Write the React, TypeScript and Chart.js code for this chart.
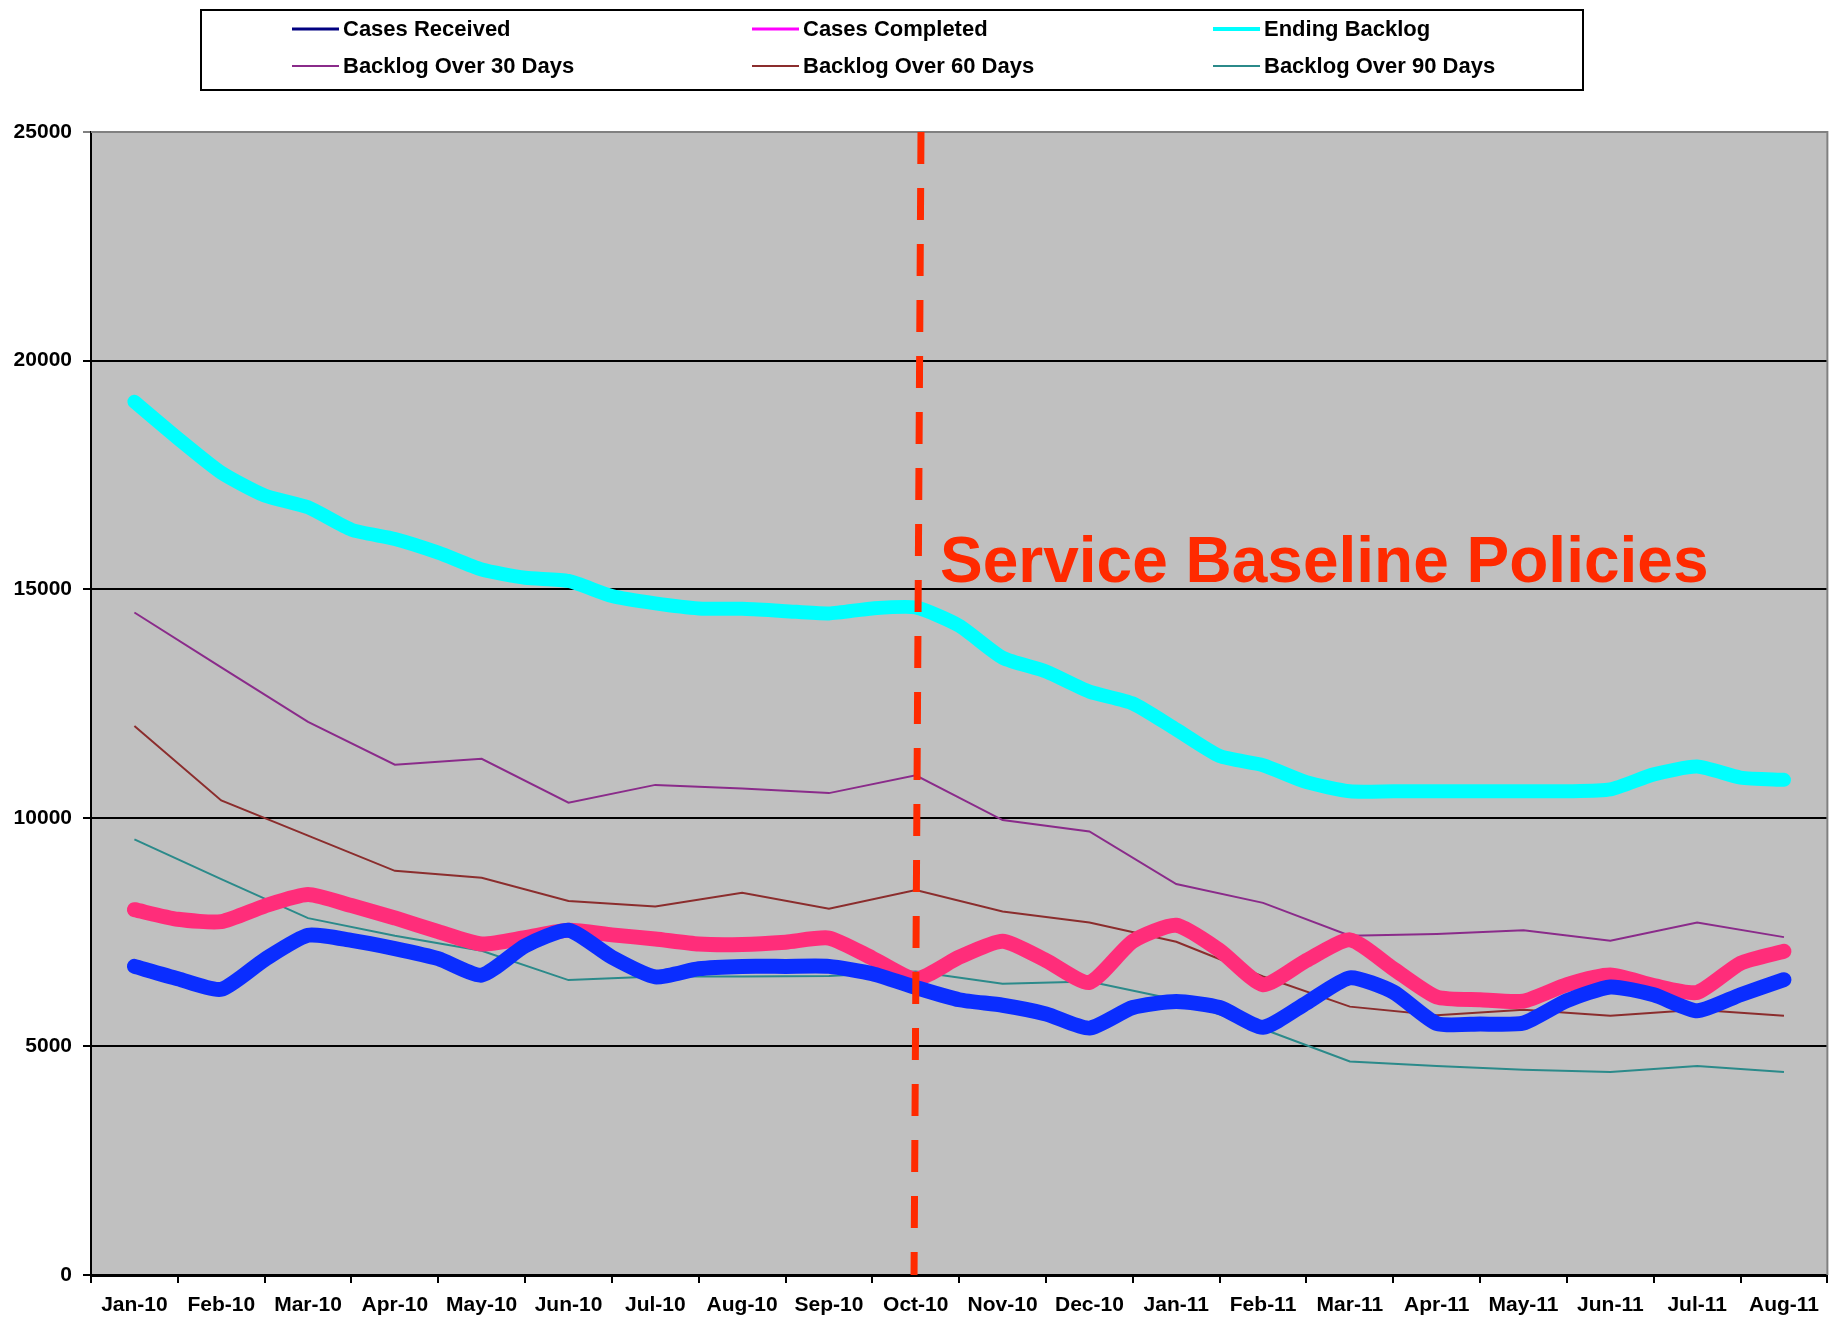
import React, { useEffect, useRef } from 'react';
import { Chart, registerables } from 'chart.js';

Chart.register(...registerables);

const months = [
  'Jan-10', 'Feb-10', 'Mar-10', 'Apr-10', 'May-10', 'Jun-10', 'Jul-10', 'Aug-10', 'Sep-10', 'Oct-10',
  'Nov-10', 'Dec-10', 'Jan-11', 'Feb-11', 'Mar-11', 'Apr-11', 'May-11', 'Jun-11', 'Jul-11', 'Aug-11',
];
const monthX = [0, 1, 2, 3, 4, 5, 6, 7, 8, 9, 10, 11, 12, 13, 14, 15, 16, 17, 18, 19];
const halfMonthX = [
  0, 0.5, 1, 1.5, 2, 2.5, 3, 3.5, 4, 4.5, 5, 5.5, 6, 6.5, 7, 7.5, 8, 8.5, 9, 9.5,
  10, 10.5, 11, 11.5, 12, 12.5, 13, 13.5, 14, 14.5, 15, 15.5, 16, 16.5, 17, 17.5, 18, 18.5, 19,
];

const casesReceived = [
  6750, 6480, 6250, 6900, 7430, 7320, 7140, 6920, 6560, 7200,
  7540, 6950, 6520, 6700, 6750, 6750, 6750, 6590, 6290, 6020,
  5900, 5710, 5400, 5850, 5980, 5850, 5420, 5950, 6500, 6190,
  5500, 5490, 5510, 6000, 6300, 6130, 5780, 6130, 6460,
];
const casesCompleted = [
  7990, 7780, 7730, 8070, 8320, 8080, 7810, 7510, 7240, 7380,
  7540, 7440, 7350, 7240, 7230, 7280, 7370, 6930, 6470, 6950,
  7300, 6880, 6400, 7300, 7650, 7100, 6350, 6880, 7330, 6700,
  6080, 6020, 5990, 6350, 6560, 6330, 6180, 6820, 7080,
];
const endingBacklog = [
  19100, 18300, 17550, 17050, 16790, 16300, 16100, 15800, 15430, 15250,
  15180, 14850, 14690, 14580, 14570, 14520, 14470, 14580, 14600, 14200,
  13500, 13200, 12760, 12500, 11930, 11350, 11150, 10780, 10580, 10580,
  10580, 10580, 10580, 10580, 10620, 10950, 11120, 10880, 10830,
];
const backlogOver30 = [
  14490, 13290, 12100, 11160, 11290, 10330, 10720, 10640, 10540, 10930,
  9950, 9700, 8550, 8140, 7420, 7460, 7540, 7310, 7710, 7390,
];
const backlogOver60 = [
  12010, 10380, 9610, 8840, 8690, 8180, 8060, 8360, 8010, 8420,
  7950, 7710, 7290, 6530, 5870, 5680, 5800, 5670, 5800, 5670,
];
const backlogOver90 = [
  9530, 8660, 7805, 7420, 7090, 6450, 6530, 6530, 6540, 6640,
  6370, 6420, 6020, 5380, 4670, 4570, 4490, 4440, 4570, 4440,
];
const policyLineX = [9.06, 8.98];
const policyLineY = [25000, 0];
const policyLabel = 'Service Baseline Policies';

const FONT = '"Liberation Sans", Arial, Helvetica, sans-serif';
const RED = '#ff2a00';

const pts = (xs: number[], ys: number[]) => xs.map((x, i) => ({ x, y: ys[i] }));

const legendEntries = [
  { ds: 3, w: 3 },
  { ds: 4, w: 3 },
  { ds: 5, w: 4 },
  { ds: 6, w: 2 },
  { ds: 7, w: 2 },
  { ds: 8, w: 2 },
];

const bgPlugin = {
  id: 'plotBg',
  beforeDraw(chart: any) {
    const { ctx, chartArea: a } = chart;
    ctx.save();
    ctx.fillStyle = '#ffffff';
    ctx.fillRect(0, 0, chart.width, chart.height);
    ctx.fillStyle = '#c0c0c0';
    ctx.fillRect(a.left, a.top, a.right - a.left, a.bottom - a.top);
    ctx.restore();
  },
  beforeDatasetsDraw(chart: any) {
    const { ctx, chartArea: a } = chart;
    ctx.save();
    ctx.strokeStyle = '#808080';
    ctx.lineWidth = 2;
    ctx.beginPath();
    ctx.moveTo(a.left, a.top);
    ctx.lineTo(a.right, a.top);
    ctx.lineTo(a.right, a.bottom);
    ctx.stroke();
    ctx.restore();
  },
  afterDatasetsDraw(chart: any) {
    const { ctx } = chart;
    ctx.save();
    ctx.fillStyle = RED;
    ctx.font = `bold 64px ${FONT}`;
    ctx.textBaseline = 'alphabetic';
    ctx.textAlign = 'left';
    ctx.fillText(policyLabel, 940, 582);
    ctx.restore();
  },
  afterDraw(chart: any) {
    const { ctx } = chart;
    ctx.save();
    ctx.strokeStyle = '#000';
    ctx.lineWidth = 2;
    ctx.strokeRect(201, 10, 1382, 80);
    const cols = [292, 752, 1213];
    const rows = [29, 66];
    ctx.font = `bold 22px ${FONT}`;
    ctx.textBaseline = 'middle';
    ctx.textAlign = 'left';
    legendEntries.forEach((e, i) => {
      const ds = chart.data.datasets[e.ds];
      const x = cols[i % 3];
      const y = rows[Math.floor(i / 3)];
      ctx.strokeStyle = ds.borderColor;
      ctx.lineWidth = e.w;
      ctx.beginPath();
      ctx.moveTo(x, y);
      ctx.lineTo(x + 47, y);
      ctx.stroke();
      ctx.fillStyle = '#000';
      ctx.fillText(ds.label, x + 51, y + 1);
    });
    ctx.restore();
  },
};

export default function App() {
  const ref = useRef<HTMLCanvasElement | null>(null);

  useEffect(() => {
    if (!ref.current) return;
    const thick = (label: string, data: number[], color: string, width: number) => ({
      label,
      data: pts(halfMonthX, data),
      borderColor: color,
      backgroundColor: color,
      borderWidth: width,
      pointRadius: 0,
      tension: 0.2,
      borderJoinStyle: 'round' as const,
      borderCapStyle: 'round' as const,
      xAxisID: 'xd',
      yAxisID: 'y',
    });
    const thin = (label: string, xs: number[], data: number[], color: string, width: number) => ({
      label,
      data: pts(xs, data),
      borderColor: color,
      backgroundColor: color,
      borderWidth: width,
      pointRadius: 0,
      tension: 0,
      xAxisID: 'xd',
      yAxisID: 'y',
    });

    const chart = new Chart(ref.current, {
      type: 'line',
      data: {
        labels: months,
        datasets: [
          {
            ...thin('policy', policyLineX, policyLineY, RED, 7),
            borderDash: [32, 24],
            borderCapStyle: 'butt' as const,
          },
          thick('receivedOverlay', casesReceived, '#0a2dff', 15),
          thick('completedOverlay', casesCompleted, '#ff2d7a', 15),
          thin('Cases Received', halfMonthX, casesReceived, '#000080', 2),
          thin('Cases Completed', halfMonthX, casesCompleted, '#ff00ff', 2),
          thick('Ending Backlog', endingBacklog, '#00ffff', 14),
          thin('Backlog Over 30 Days', monthX, backlogOver30, '#8a2b8a', 2),
          thin('Backlog Over 60 Days', monthX, backlogOver60, '#8b2d2d', 2),
          thin('Backlog Over 90 Days', monthX, backlogOver90, '#2b8a8a', 2),
        ] as any,
      },
      options: {
        animation: false,
        responsive: false,
        devicePixelRatio: 1,
        layout: { padding: { top: 132, right: 1, bottom: 0, left: 0 } },
        plugins: {
          legend: { display: false },
          tooltip: { enabled: false },
        },
        scales: {
          x: {
            type: 'category',
            labels: months,
            offset: true,
            position: 'bottom',
            grid: {
              offset: true,
              drawOnChartArea: false,
              drawTicks: true,
              tickLength: 8,
              color: '#000',
              lineWidth: 2,
            },
            border: { display: true, color: '#000', width: 3 },
            ticks: {
              autoSkip: false,
              maxRotation: 0,
              minRotation: 0,
              padding: 10,
              color: '#000',
              font: { family: FONT, size: 21, weight: 'bold' },
            },
            afterFit: (s: any) => {
              s.height = 47;
            },
          },
          xd: {
            type: 'linear',
            display: false,
            min: -0.5,
            max: 19.5,
          },
          y: {
            type: 'linear',
            min: 0,
            max: 25000,
            position: 'left',
            grid: {
              color: (c: any) => (c.tick && c.tick.value === 25000 ? '#808080' : '#000'),
              lineWidth: 2,
              tickLength: 8,
              drawTicks: true,
            },
            border: { display: true, color: '#000', width: 2 },
            ticks: {
              stepSize: 5000,
              padding: 11,
              color: '#000',
              font: { family: FONT, size: 21, weight: 'bold' },
              callback: (v: any) => String(v),
            },
            afterFit: (s: any) => {
              s.width = 91;
            },
          },
        },
      } as any,
      plugins: [bgPlugin],
    });
    return () => chart.destroy();
  }, []);

  return (
    <div style={{ position: 'absolute', left: 0, top: 0, width: 1829, height: 1322, background: '#fff' }}>
      <canvas ref={ref} width={1829} height={1322} style={{ display: 'block', width: 1829, height: 1322 }} />
    </div>
  );
}
